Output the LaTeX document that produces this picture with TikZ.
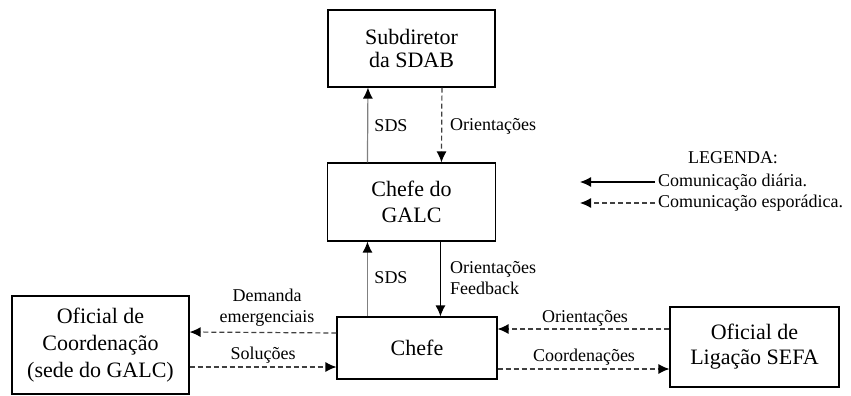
\documentclass[tikz,border=0pt]{standalone}
\usepackage{fontspec}
\setmainfont{Liberation Serif}
\usetikzlibrary{arrows.meta}
\begin{document}
\begin{tikzpicture}[x=1pt,y=-1pt,
  box/.style={draw=black,line width=1.1pt,align=center,inner sep=0pt},
  lbl/.style={font=\fontsize{18}{21}\selectfont,inner sep=0pt,align=center},
  tip/.style={-{Latex[length=11pt,width=10pt,color=black]}},
  solidarr/.style={tip,draw=black,line width=1.2pt},
  greyarr/.style={tip,draw=gray,line width=1.2pt},
  dasharr/.style={tip,draw=black!75,line width=1.2pt,dash pattern=on 5pt off 3pt}]
\useasboundingbox (0,0) rectangle (851,396);
\fill[white] (0,0) rectangle (851,396);
% boxes
\node[box,minimum width=167pt,minimum height=77pt,font=\fontsize{22}{23}\selectfont] (sub) at (411.5,48.5) {Subdiretor\\da SDAB};
\node[box,minimum width=168pt,minimum height=78pt,font=\fontsize{22}{26}\selectfont] (galc) at (411.5,202) {Chefe do\\GALC};
\node[box,minimum width=160pt,minimum height=62pt,font=\fontsize{22}{26}\selectfont] (chefe) at (417,348) {Chefe};
\node[box,minimum width=177pt,minimum height=98pt,font=\fontsize{22}{27}\selectfont] (ofc) at (100.5,345) {Oficial de\\Coordenação\\(sede do GALC)};
\node[box,minimum width=169pt,minimum height=80pt,font=\fontsize{22}{25}\selectfont] (sefa) at (754.5,347) {Oficial de\\Ligação SEFA};
% vertical connectors
\draw[greyarr] ([xshift=40.5pt]galc.north west) -- ([xshift=40.5pt]sub.south west);
\draw[dasharr] ([xshift=114.5pt]sub.south west) -- ([xshift=114.5pt]galc.north west);
\draw[greyarr] ([xshift=31pt]chefe.north west) -- ([xshift=40.5pt]galc.south west);
\draw[solidarr] ([xshift=113.5pt]galc.south west) -- ([xshift=104pt]chefe.north west);
% horizontal connectors
\draw[dasharr] ([yshift=15pt]chefe.west) -- ([yshift=13pt]ofc.east);
\draw[dasharr] ([yshift=-22pt]ofc.east) -- ([yshift=-19pt]chefe.west);
\draw[dasharr] ([yshift=18pt]sefa.west) -- ([yshift=19pt]chefe.east);
\draw[dasharr] ([yshift=-21pt]chefe.east) -- ([yshift=-22pt]sefa.west);
% labels
\node[lbl] (l1) at (391,126) {SDS};
\node[lbl,anchor=west] (l2) at (450,126) {Orientações};
\node[lbl] (l3) at (391,278) {SDS};
\node[lbl,anchor=west,align=left] (l4) at (450,278) {Orientações\\Feedback};
\node[lbl] (l5) at (267,307.5) {Demanda\\emergenciais};
\node[lbl] (l6) at (263,355) {Soluções};
\node[lbl] (l7) at (585,318) {Orientações};
\node[lbl] (l8) at (584,357) {Coordenações};
% legend
\node[lbl] (leg) at (733,158) {LEGENDA:};
\node[lbl,anchor=west] (lg1) at (658,182) {Comunicação diária.};
\node[lbl,anchor=west] (lg2) at (658,203) {Comunicação esporádica.};
\coordinate (la1) at (580,182);
\coordinate (la2) at (580,203);
\draw[solidarr] ([xshift=-3pt]lg1.west) -- (la1);
\draw[dasharr] ([xshift=-3pt]lg2.west) -- (la2);
\end{tikzpicture}
\end{document}
